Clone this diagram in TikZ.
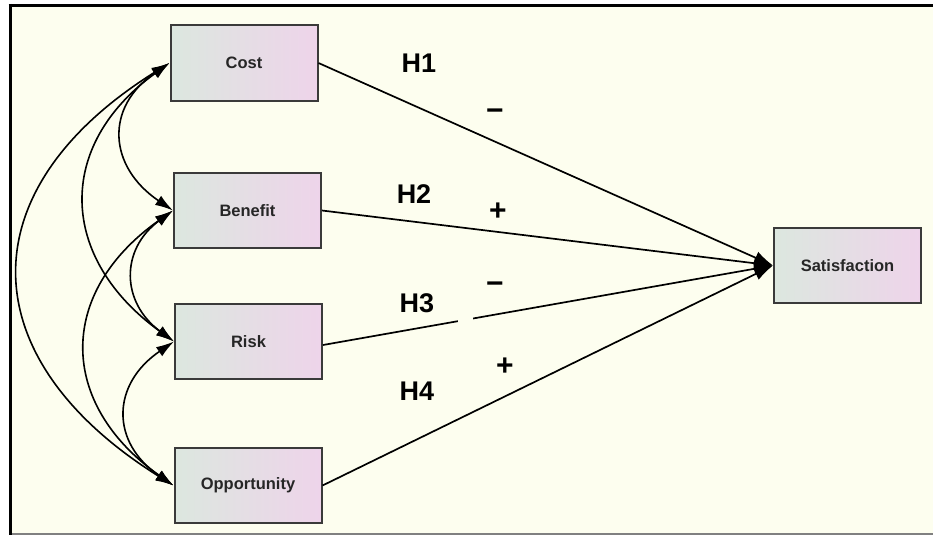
\documentclass[tikz,border=0pt]{standalone}
\usepackage{fontspec}
\setmainfont{Liberation Sans}
\usetikzlibrary{arrows.meta}
\definecolor{bgcream}{HTML}{FDFEEF}
\definecolor{boxleft}{HTML}{DCE7DF}
\definecolor{boxright}{HTML}{EED4EA}
\definecolor{boxedge}{HTML}{3A3A3A}
\begin{document}
\begin{tikzpicture}[x=1pt,y=-1pt,
  varbox/.style={draw=boxedge, line width=2pt, left color=boxleft, right color=boxright,
    shading angle=90, minimum width=147pt, minimum height=75pt, inner sep=0pt,
    font=\bfseries\fontsize{16.5}{19}\selectfont, text=black!85},
  hyp/.style={font=\bfseries\fontsize{27}{30}\selectfont, inner sep=1pt},
  sign/.style={font=\bfseries\fontsize{30}{32}\selectfont, inner sep=1pt},
  path/.style={line width=1.7pt, -{Latex[length=19pt,width=13pt]}},
  cov/.style={line width=1.6pt, {Latex[length=18pt,width=11pt]}-{Latex[length=18pt,width=11pt]}}
]
\useasboundingbox (0,0) rectangle (933,535);
\fill[white] (0,0) rectangle (933,535);
\fill[bgcream] (10,5) rectangle (933,534);
\draw[black!50, line width=2pt] (10,534) -- (933,534);
\draw[black, line width=3pt] (8.5,5.5) -- (933,5.5);
\draw[black, line width=3pt] (10,4) -- (10,535);

\node[varbox] (cost) at (244,63) {Cost};
\node[varbox] (ben) at (247.5,210.5) {Benefit};
\node[varbox] (risk) at (248.5,341.5) {Risk};
\node[varbox] (opp) at (248,485.5) {Opportunity};
\node[varbox] (sat) at (847.5,265.5) {Satisfaction};

\draw[path] (cost.east) -- (sat.west);
\draw[path] (ben.east) -- (sat.west);
\draw[path] ([yshift=-3.5pt]risk.east) -- (sat.west);
\draw[path] (opp.east) -- (sat.west);
\fill[bgcream] (458,315) rectangle (473,325);

\draw[cov] (cost.west) .. controls +(-65,44) and +(-65,-44) .. (ben.west);
\draw[cov] (ben.west) .. controls +(-53,39) and +(-53,-39) .. (risk.west);
\draw[cov] (risk.west) .. controls +(-63,43) and +(-63,-43) .. (opp.west);
\draw[cov] (cost.west) .. controls +(-115,83) and +(-115,-83) .. (risk.west);
\draw[cov] (ben.west) .. controls +(-116,82) and +(-116,-82) .. (opp.west);
\draw[cov] (cost.west) .. controls +(-203,127) and +(-203,-127) .. (opp.west);

\node[hyp] (h1) at (419,63) {H1};
\node[hyp] (h2) at (414,194) {H2};
\node[hyp] (h3) at (417,303) {H3};
\node[hyp] (h4) at (417,391) {H4};
\node[sign] (s1) at (495,115) {−};
\node[sign] (s2) at (498,212) {+};
\node[sign] (s3) at (495,288) {−};
\node[sign] (s4) at (505,367) {+};
\end{tikzpicture}
\end{document}
